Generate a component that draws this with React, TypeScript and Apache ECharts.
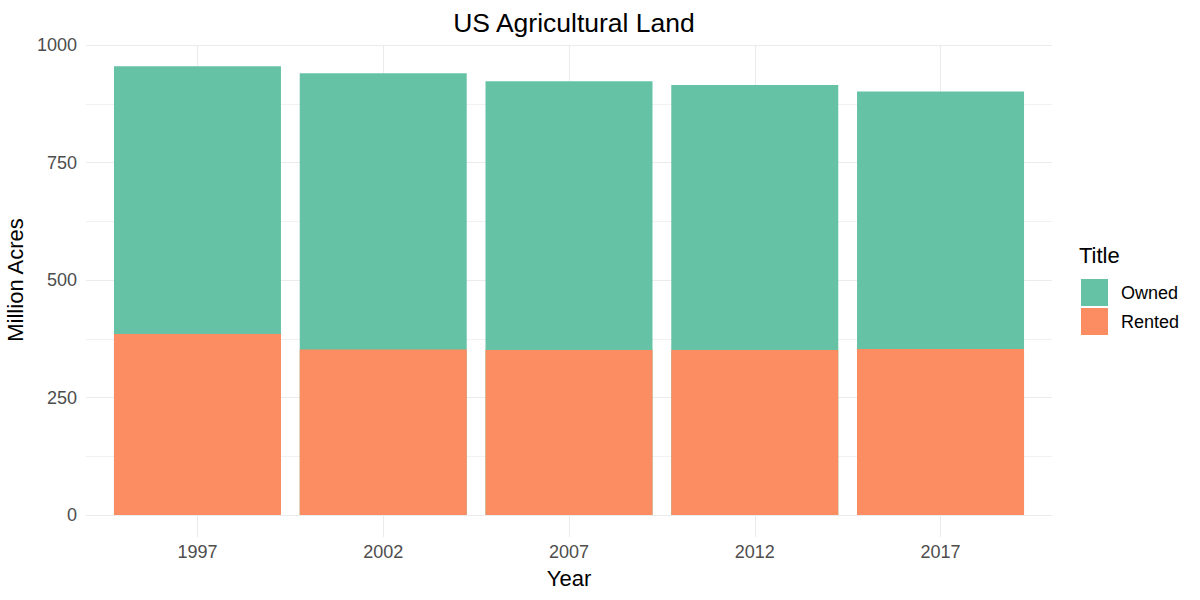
import React, { useEffect, useRef } from "react";
import * as echarts from "echarts";

const years = ["1997", "2002", "2007", "2012", "2017"];
const rented = [385, 352, 351, 351, 353];
const owned = [570, 588, 572, 564, 548];
const yTicks = [0, 250, 500, 750, 1000];

const FONT = "'Liberation Sans', Arial, sans-serif";
const GRID = "#EBEBEB";

export default function App() {
  const ref = useRef<HTMLDivElement>(null);
  useEffect(() => {
    if (!ref.current) return;
    const chart = echarts.init(ref.current, undefined, { renderer: "svg" });
    const idx = years.map((_, i) => i);
    // top of the owned segment sits on the rented segment
    const ownedTop = owned.map((v, i) => v + rented[i]);
    chart.setOption({
      animation: false,
      textStyle: { fontFamily: FONT },
      title: [
        {
          text: "US Agricultural Land",
          left: 569,
          top: 4,
          textAlign: "center",
          textStyle: { fontSize: 26.5, fontWeight: "normal", color: "#000", fontFamily: FONT },
        },
        {
          text: "Title",
          left: 1079,
          top: 244,
          padding: 0,
          textStyle: { fontSize: 22, fontWeight: "normal", color: "#000", fontFamily: FONT },
        },
      ],
      legend: {
        data: ["Owned", "Rented"],
        orient: "vertical",
        left: 1081,
        top: 279,
        padding: 0,
        itemWidth: 27,
        itemHeight: 27,
        itemGap: 2,
        icon: "rect",
        selectedMode: false,
        textStyle: { fontSize: 18, color: "#000", fontFamily: FONT, padding: [0, 0, 0, 8] },
      },
      grid: { left: 86, right: 148, top: 45, bottom: 85, containLabel: false, outerBoundsMode: "none" },
      xAxis: {
        type: "value",
        min: -0.6,
        max: 4.6,
        name: "Year",
        nameLocation: "middle",
        nameGap: 52,
        nameTextStyle: { fontSize: 22, color: "#000", fontFamily: FONT },
        axisLine: { show: false },
        axisTick: { show: true, length: 22, customValues: idx, lineStyle: { color: GRID, width: 1 } },
        axisLabel: {
          customValues: idx,
          margin: 28,
          fontSize: 18,
          color: "#4D4D4D",
          fontFamily: FONT,
          formatter: (v: number) => years[Math.round(v)] ?? "",
        },
        splitLine: { show: true, lineStyle: { color: GRID, width: 1 } },
      },
      yAxis: {
        type: "value",
        min: yTicks[0],
        max: yTicks[yTicks.length - 1],
        interval: 250,
        name: "Million Acres",
        nameLocation: "middle",
        nameGap: 58,
        nameTextStyle: { fontSize: 22, color: "#000", fontFamily: FONT },
        axisLine: { show: false },
        axisTick: { show: false },
        axisLabel: {
          margin: 9,
          fontSize: 18,
          color: "#4D4D4D",
          fontFamily: FONT,
          formatter: (v: number) => String(v),
        },
        splitLine: { show: true, lineStyle: { color: GRID, width: 1 } },
        minorTick: { show: false, splitNumber: 2 },
        minorSplitLine: { show: true, lineStyle: { color: "#F1F1F1", width: 1 } },
      },
      series: [
        {
          name: "Owned",
          type: "bar",
          barWidth: 167,
          barGap: "-100%",
          itemStyle: { color: "#66C2A5" },
          data: ownedTop.map((v, i) => [i, v]),
        },
        {
          name: "Rented",
          type: "bar",
          barWidth: 167,
          barGap: "-100%",
          itemStyle: { color: "#FC8D62" },
          data: rented.map((v, i) => [i, v]),
        },
      ],
    });
    return () => chart.dispose();
  }, []);
  return <div ref={ref} style={{ width: 1200, height: 600, position: "absolute", left: 0, top: 0 }} />;
}
